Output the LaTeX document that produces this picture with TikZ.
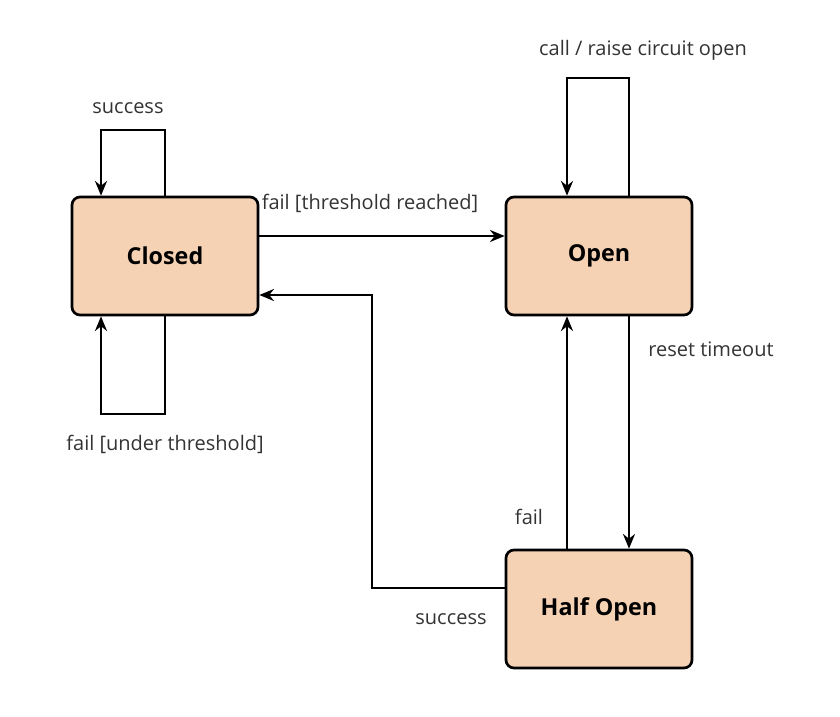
\documentclass[tikz,border=0pt]{standalone}
\usepackage{fontspec}
\setmainfont{Open Sans}
\usetikzlibrary{positioning,arrows.meta}
\tikzstyle{StateNode}=[draw=black, fill=stateFill, line width=2pt, rounded corners=6pt, minimum width=139.5pt, minimum height=88.5pt, font=\fontsize{17.5}{20}\selectfont\bfseries]
\tikzstyle{Lbl}=[font=\fontsize{15}{17}\selectfont, text=black!80]
\definecolor{stateFill}{HTML}{F5D2B4}
\begin{document}
\begin{tikzpicture}[x=0.75pt, y=-0.75pt, line width=1.9pt, >={Stealth[length=11pt,width=9pt]}]
      \useasboundingbox (0,0) rectangle (840,717);
      \node[StateNode] (closed) at (165,256) {Closed};
      \node[StateNode] (open) at (599,256) {Open};
      \node[StateNode] (half) at (599,609) {Half Open};
      \coordinate (s1) at (165,130); \coordinate (s2) at (101,130);
      \coordinate (f1) at (165,414); \coordinate (f2) at (101,414);
      \coordinate (c1) at (629,78); \coordinate (c2) at (567,78);
      \coordinate (h1) at (372,588); \coordinate (h2) at (372,295);
      \draw[->] (closed.east |- 0,236) -- (open.west |- 0,236);
      \draw[->] (closed.north -| s1) -- (s1) -- (s2) -- (closed.north -| s2);
      \draw[->] (closed.south -| f1) -- (f1) -- (f2) -- (closed.south -| f2);
      \draw[->] (open.north -| c1) -- (c1) -- (c2) -- (open.north -| c2);
      \draw[->] (open.south -| c1) -- (half.north -| c1);
      \draw[->] (half.north -| c2) -- (open.south -| c2);
      \draw[->] (half.west |- h1) -- (h1) -- (h2) -- (closed.east |- h2);
      \node[Lbl] (lthr) at (370,203) {fail [threshold reached]};
      \node[Lbl] (lsuc) at (128,108) {success};
      \node[Lbl] (lund) at (165,444) {fail [under threshold]};
      \node[Lbl] (lcall) at (643,50) {call / raise circuit open};
      \node[Lbl] (lres) at (711,349) {reset timeout};
      \node[Lbl] (lfail) at (529,517) {fail};
      \node[Lbl] (lhs) at (451,619) {success};
    \end{tikzpicture}
\end{document}
